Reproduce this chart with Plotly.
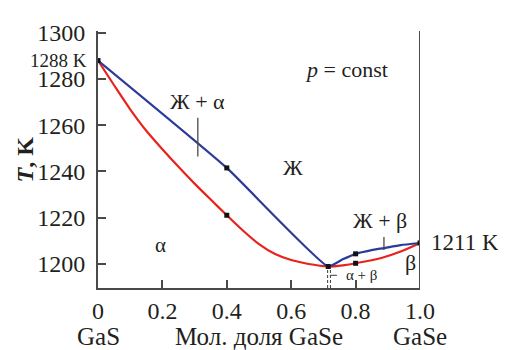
import plotly.graph_objects as go

# Liquidus (blue) and solidus (red), mole fraction GaSe vs T (K)
liq_x = [0.0, 0.4, 0.715, 0.76, 0.8, 0.85, 0.888, 0.94, 1.0]
liq_T = [1288.0, 1241.5, 1198.8, 1201.9, 1204.3, 1205.9, 1206.8, 1208.1, 1209.0]

sol_x = [0.0, 0.05, 0.1, 0.15, 0.2, 0.25, 0.3, 0.35, 0.4, 0.45, 0.5, 0.55, 0.6, 0.65, 0.7, 0.715, 0.76, 0.8, 0.85, 0.88, 0.94, 1.0]
sol_T = [1288.0, 1277.3, 1266.9, 1257.6, 1249.6, 1242.0, 1234.7, 1227.8, 1221.0, 1214.4, 1208.5, 1204.2, 1201.6, 1200.0, 1199.0, 1198.8, 1199.3, 1200.2, 1201.5, 1202.5, 1205.3, 1209.0]

# experimental points (black squares)
pts_x = [0.0, 0.4, 0.4, 0.715, 0.8, 0.8, 1.0]
pts_T = [1288.0, 1241.5, 1221.0, 1198.8, 1204.3, 1200.2, 1209.0]

x_ticks = [0, 0.2, 0.4, 0.6, 0.8, 1.0]
x_ticktext = ["0", "0.2", "0.4", "0.6", "0.8", "1.0"]
y_ticks = [1200, 1220, 1240, 1260, 1280, 1300]

FONT = "Liberation Serif, Times New Roman, serif"
TXT = "#231f20"
AX = "#4a4a4a"
BLUE = "#2b3b97"
RED = "#e8231d"

fig = go.Figure()
fig.add_trace(go.Scatter(x=sol_x, y=sol_T, mode="lines", line=dict(color=RED, width=2.2, shape="spline", smoothing=0.8), hoverinfo="skip"))
fig.add_trace(go.Scatter(x=liq_x, y=liq_T, mode="lines", line=dict(color=BLUE, width=2.2, shape="spline", smoothing=0.4), hoverinfo="skip"))
fig.add_trace(go.Scatter(x=pts_x, y=pts_T, mode="markers", marker=dict(symbol="square", size=5, color="#111"), hoverinfo="skip"))

# Tie-line marks and guide lines
tick_lines = [((0.31, 1246.4), (0.31, 1263.2)), ((0.888, 1206.0), (0.888, 1211.6))]
for (x0, y0), (x1, y1) in tick_lines:
    fig.add_shape(type="line", x0=x0, y0=y0, x1=x1, y1=y1, line=dict(color=AX, width=1.3))
for xd in [0.713, 0.722]:
    fig.add_shape(type="line", x0=xd, y0=1189.5, x1=xd, y1=1198.3, line=dict(color=AX, width=1.1, dash="3px,2px"))
fig.add_shape(type="line", x0=0.722, y0=1195.0, x1=0.742, y1=1195.0, line=dict(color=AX, width=1.1))
# right frame line
fig.add_shape(type="line", xref="x", yref="paper", x0=1, x1=1, y0=0, y1=1, line=dict(color=AX, width=2))

ann = [
    dict(x=0, y=1288, text="1288 K", xanchor="right", xshift=-9, size=19),
    dict(x=0.31, y=1270.3, text="Ж + α", size=22),
    dict(x=0.773, y=1284, text="<i>p</i> = const", size=22),
    dict(x=0.605, y=1241.8, text="Ж", size=22),
    dict(x=0.195, y=1208, text="α", size=21),
    dict(x=0.876, y=1218.8, text="Ж + β", size=22),
    dict(x=1.0, y=1209.3, text="1211 K", xanchor="left", xshift=9, size=23),
    dict(x=0.97, y=1200.4, text="β", size=22),
    dict(x=0.818, y=1195.0, text="α + β", size=15),
]
for a in ann:
    fig.add_annotation(x=a["x"], y=a["y"], xref="x", yref="y", text=a["text"], showarrow=False,
                       xanchor=a.get("xanchor", "center"), yanchor="middle", xshift=a.get("xshift", 0),
                       font=dict(family=FONT, size=a["size"], color=TXT))

for xv, t in [(0, "GaS"), (0.5, "Мол. доля GaSe"), (1.0, "GaSe")]:
    fig.add_annotation(x=xv, y=-0.187, xref="x", yref="paper", text=t, showarrow=False,
                       xanchor="center", yanchor="middle", font=dict(family=FONT, size=25, color=TXT))

fig.add_annotation(x=-0.227, y=0.5, xref="paper", yref="paper", text="<b><i>T</i>, K</b>", textangle=-90,
                   showarrow=False, xanchor="center", yanchor="middle", font=dict(family=FONT, size=24, color=TXT))

fig.update_layout(
    width=498, height=342,
    margin=dict(l=90, r=86, t=14, b=62),
    plot_bgcolor="white", paper_bgcolor="white",
    showlegend=False,
    font=dict(family=FONT, size=24, color=TXT),
    xaxis=dict(range=[0, 1], tickvals=x_ticks, ticktext=x_ticktext, ticks="inside", ticklen=8,
               tickcolor=AX, tickwidth=1.5, showline=True, linecolor=AX, linewidth=2,
               showgrid=False, zeroline=False, ticklabelstandoff=0,
               tickfont=dict(family=FONT, size=24, color=TXT)),
    yaxis=dict(range=[1189.5, 1300.8], tickvals=y_ticks, ticks="inside", ticklen=8,
               tickcolor=AX, tickwidth=1.5, showline=True, linecolor=AX, linewidth=2,
               showgrid=False, zeroline=False, ticklabelstandoff=6,
               tickfont=dict(family=FONT, size=24, color=TXT)),
)

fig.write_html("out.html")
